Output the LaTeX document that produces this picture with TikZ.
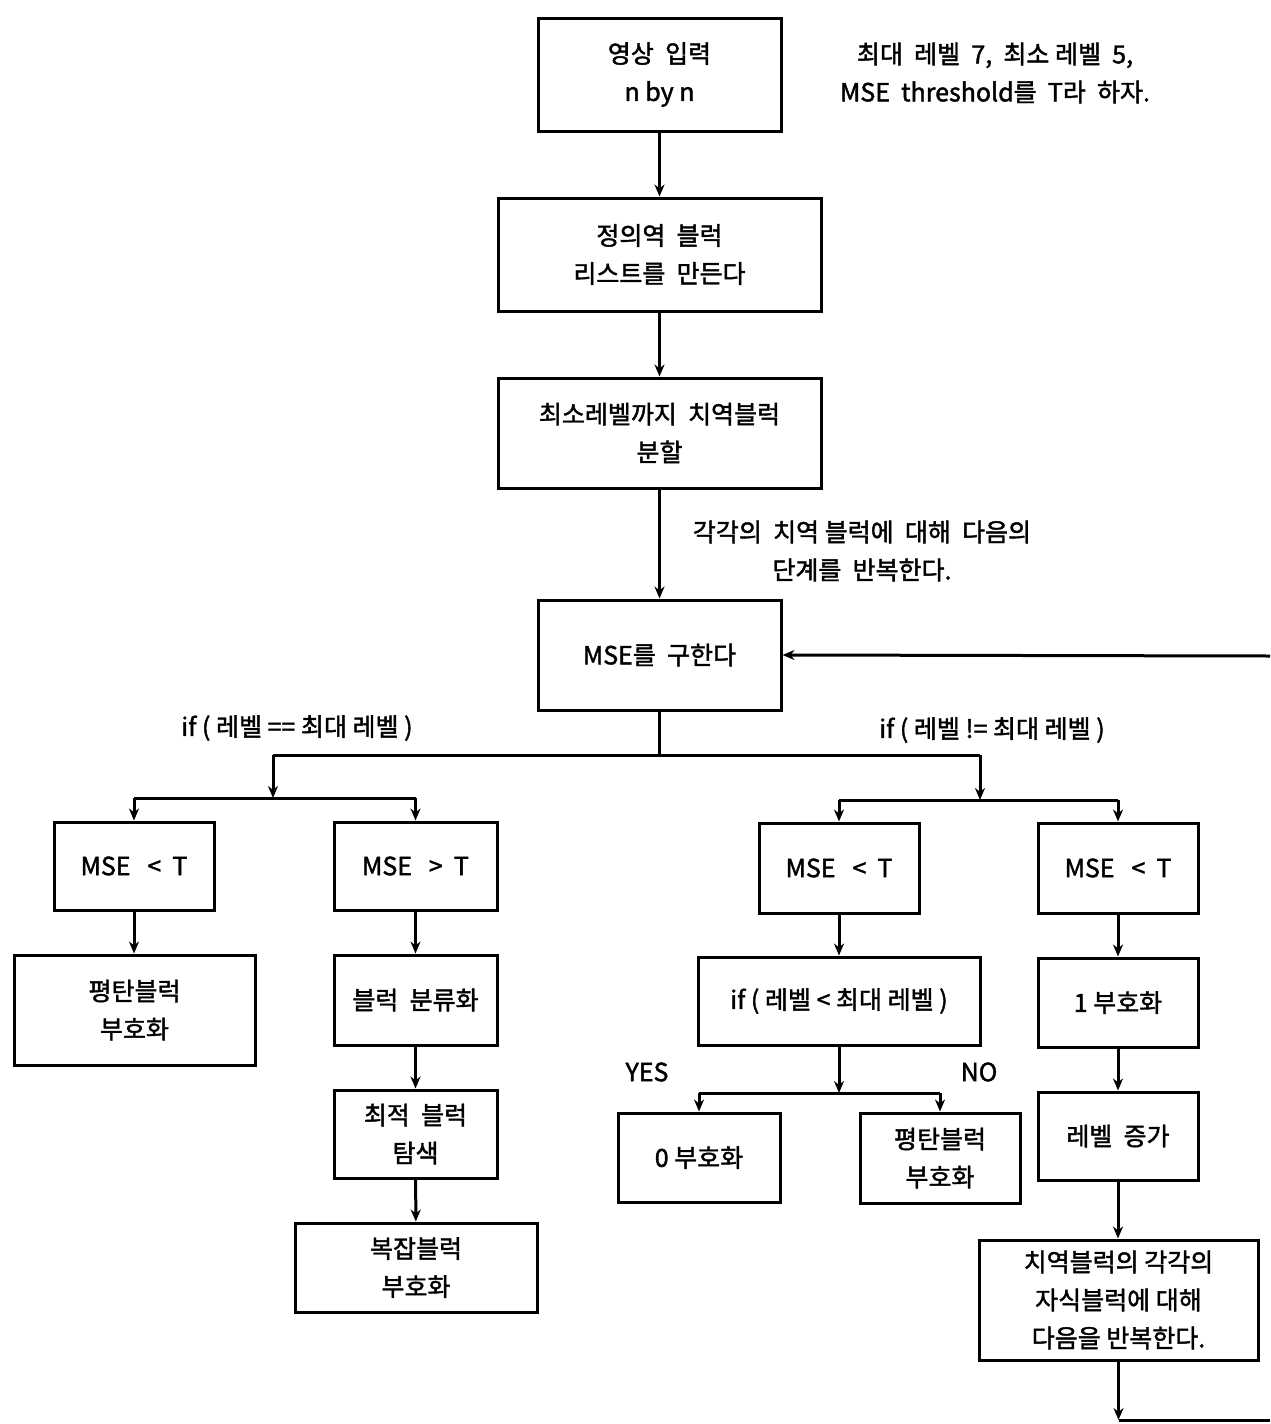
\documentclass[tikz,border=0pt]{standalone}
\usepackage{fontspec}
\setmainfont{Noto Sans CJK KR}[FakeBold=1.6]
\usetikzlibrary{arrows.meta}
\begin{document}
\begin{tikzpicture}[x=0.5pt,y=-0.5pt,
  box/.style={draw,line width=1.5pt,inner sep=0pt,align=center,
    font=\fontsize{12.5}{19}\selectfont},
  arr/.style={line width=1.5pt,-{Stealth[length=6pt,width=5pt]}},
  ln/.style={line width=1.5pt},
  lbl/.style={align=center,inner sep=0pt,font=\fontsize{12.5}{19}\selectfont}]
\useasboundingbox[fill=white] (0,0) rectangle (1270,1424);

% main column
\node[box,minimum width=121.5pt,minimum height=56.5pt] (b1) at (659.5,74.5) {영상 \ 입력\\n by n};
\node[box,minimum width=161.5pt,minimum height=56.5pt] (b2) at (659.5,254.5) {정의역 \ 블럭\\리스트를 \ 만든다};
\node[box,minimum width=161.5pt,minimum height=55pt] (b3) at (659.5,433) {최소레벨까지 \ 치역블럭\\분할};
\node[box,minimum width=121.5pt,minimum height=55pt] (b4) at (659.5,655) {MSE를 \ 구한다};

% left branch
\node[box,minimum width=80pt,minimum height=44pt] (l1) at (134,866) {MSE \ \ < \ T};
\node[box,minimum width=81.5pt,minimum height=44pt] (l2) at (415.5,866) {MSE \ \ > \ T};
\node[box,minimum width=120.5pt,minimum height=55pt] (l3) at (134.5,1010) {평탄블럭\\부호화};
\node[box,minimum width=81.5pt,minimum height=45pt] (l4) at (415.5,1000) {블럭 \ 분류화};
\node[box,minimum width=81.5pt,minimum height=44pt] (l5) at (415.5,1134) {최적 \ 블럭\\탐색};
\node[box,minimum width=121pt,minimum height=44.5pt] (l6) at (416,1267.5) {복잡블럭\\부호화};

% middle-right branch
\node[box,minimum width=80pt,minimum height=45pt] (r1) at (839,868) {MSE \ \ < \ T};
\node[box,minimum width=141pt,minimum height=44pt] (r2) at (839,1001) {if ( 레벨 < 최대 레벨 )};
\node[box,minimum width=81pt,minimum height=44.5pt] (r3) at (699,1157.5) {0 부호화};
\node[box,minimum width=80pt,minimum height=45pt] (r4) at (940,1158) {평탄블럭\\부호화};

% right branch
\node[box,minimum width=80pt,minimum height=45pt] (s1) at (1118,868) {MSE \ \ < \ T};
\node[box,minimum width=80pt,minimum height=44.5pt] (s2) at (1118,1002.5) {1 부호화};
\node[box,minimum width=80pt,minimum height=44pt] (s3) at (1118,1136) {레벨 \ 증가};
\node[box,minimum width=139.5pt,minimum height=60pt] (s4) at (1118.5,1300) {치역블럭의 각각의\\자식블럭에 대해\\다음을 반복한다.};

% labels
\node[lbl] (note) at (995,73) {최대 \ 레벨 \ 7, \ 최소 레벨 \ 5,\\MSE \ threshold를 \ T라 \ 하자.};
\node[lbl] (rep) at (862,551) {각각의 \ 치역 블럭에 \ 대해 \ 다음의\\단계를 \ 반복한다.};
\node[lbl] (ifeq) at (297,728) {if ( 레벨 == 최대 레벨 )};
\node[lbl] (ifne) at (992,730) {if ( 레벨 != 최대 레벨 )};
\node[lbl] (yes) at (647,1072) {YES};
\node[lbl] (no) at (979,1072) {NO};

% coordinates
\coordinate (j1) at (659.5,755);
\coordinate (jl) at (273,755);
\coordinate (jr) at (980,755);
\coordinate (jl2) at (273,798);
\coordinate (jr2) at (980,800);
\coordinate (jy) at (839,1093);
\coordinate (bot) at (1118.5,1420);
\coordinate (e1) at (1270,1420);
\coordinate (e2) at (1270,656);

% connectors
\draw[arr] (b1) -- (b2);
\draw[arr] (b2) -- (b3);
\draw[arr] (b3) -- (b4);
\draw[ln] (b4.south) -- (j1);
\draw[ln] (jl) -- (jr);
\draw[arr] (jl) -- (jl2);
\draw[arr] (jr) -- (jr2);
\draw[ln] (l1.north |- jl2) -- (l2.north |- jl2);
\draw[arr] (l1.north |- jl2) -- (l1.north);
\draw[arr] (l2.north |- jl2) -- (l2.north);
\draw[arr] (l1.south) -- (l1.south |- l3.north);
\draw[arr] (l2) -- (l4);
\draw[arr] (l4) -- (l5);
\draw[arr] (l5) -- (l6);
\draw[ln] (r1.north |- jr2) -- (s1.north |- jr2);
\draw[arr] (r1.north |- jr2) -- (r1.north);
\draw[arr] (s1.north |- jr2) -- (s1.north);
\draw[arr] (r1) -- (r2);
\draw[arr] (r2.south) -- (jy);
\draw[ln] (r3.north |- jy) -- (r4.north |- jy);
\draw[arr] (r3.north |- jy) -- (r3.north);
\draw[arr] (r4.north |- jy) -- (r4.north);
\draw[arr] (s1) -- (s2);
\draw[arr] (s2) -- (s3);
\draw[arr] (s3) -- (s3 |- s4.north);
\draw[arr] (s4.south -| bot) -- (bot);
\draw[ln] (bot) -- (e1);
\draw[arr] (e2) -- (b4.east);
\end{tikzpicture}
\end{document}
